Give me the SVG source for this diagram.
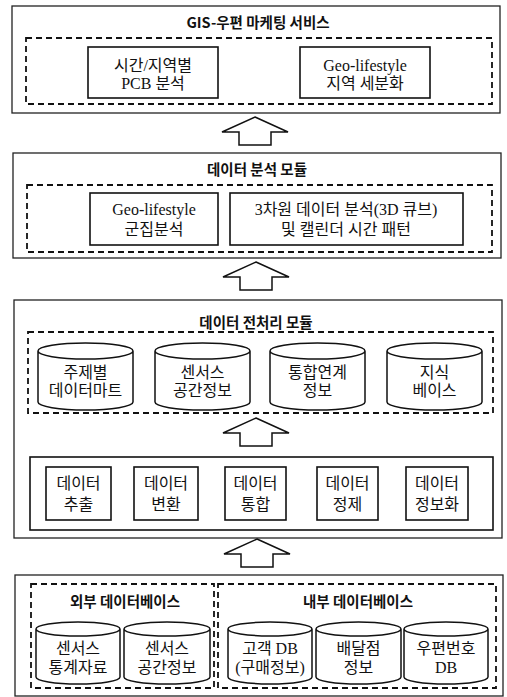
<svg xmlns="http://www.w3.org/2000/svg" width="507" height="697" viewBox="0 0 507 697">
<style>
.outer{fill:none;stroke:#222;stroke-width:1.3}
.dash{fill:none;stroke:#111;stroke-width:1.8;stroke-dasharray:6,4}
.box{fill:#fff;stroke:#111;stroke-width:1.6}
.cyl{fill:#fff;stroke:#111;stroke-width:1.5}
.arrow{fill:#fff;stroke:#111;stroke-width:1.5;stroke-linejoin:miter}
.title{font-family:"Noto Sans CJK KR","Liberation Sans",sans-serif;font-weight:bold;font-size:14.5px;fill:#111;text-anchor:middle}
.t{font-family:"Liberation Serif","Noto Sans CJK KR",serif;font-size:16px;fill:#111;text-anchor:middle}
</style>
<defs>
<path id="arr" d="M0,0 L33,15 L16,15 L16,28 L-16,28 L-16,15 L-33,15 Z"/>
</defs>
<rect width="507" height="697" fill="#fff"/>

<g id="gis-service">
<rect class="outer" x="12" y="6" width="488" height="107"/>
<text class="title" x="258" y="28">GIS-우편 마케팅 서비스</text>
<rect class="dash" x="26" y="38" width="466" height="66"/>
<g id="pcb"><rect class="box" x="88" y="47" width="130" height="51"/>
<text class="t" x="153" y="71">시간/지역별</text><text class="t" x="153" y="89">PCB 분석</text></g>
<g id="geo-seg"><rect class="box" x="300" y="47" width="130" height="51"/>
<text class="t" x="365" y="71" font-size="18">Geo-lifestyle</text><text class="t" x="365" y="89">지역 세분화</text></g>
</g>

<g id="analysis">
<rect class="outer" x="13" y="153" width="488" height="105"/>
<text class="title" x="257" y="175">데이터 분석 모듈</text>
<rect class="dash" x="27" y="185" width="465" height="67"/>
<g id="cluster"><rect class="box" x="90" y="193" width="128" height="52"/>
<text class="t" x="154" y="215" font-size="18">Geo-lifestyle</text><text class="t" x="154" y="235">군집분석</text></g>
<g id="cube"><rect class="box" x="230" y="193" width="233" height="52"/>
<text class="t" x="346" y="215">3차원 데이터 분석(3D 큐브)</text><text class="t" x="346" y="235">및 캘린더 시간 패턴</text></g>
</g>

<g id="preprocess">
<rect class="outer" x="14" y="300" width="488" height="238"/>
<text class="title" x="256" y="328">데이터 전처리 모듈</text>
<rect class="dash" x="28" y="332" width="465" height="81"/>
<g id="datamart"><path class="cyl" d="M38,351 A47.5,8 0 0 1 133,351 L133,402 A47.5,8 0 0 1 38,402 Z M38,351 A47.5,8 0 0 0 133,351"/>
<text class="t" x="85.5" y="378">주제별</text><text class="t" x="85.5" y="396">데이터마트</text></g>
<g id="census-space"><path class="cyl" d="M155,351 A47.5,8 0 0 1 250,351 L250,402 A47.5,8 0 0 1 155,402 Z M155,351 A47.5,8 0 0 0 250,351"/>
<text class="t" x="202.5" y="378">센서스</text><text class="t" x="202.5" y="396">공간정보</text></g>
<g id="integrated"><path class="cyl" d="M270,351 A47.5,8 0 0 1 365,351 L365,402 A47.5,8 0 0 1 270,402 Z M270,351 A47.5,8 0 0 0 365,351"/>
<text class="t" x="317.5" y="378">통합연계</text><text class="t" x="317.5" y="396">정보</text></g>
<g id="knowledge"><path class="cyl" d="M387,351 A47.5,8 0 0 1 482,351 L482,402 A47.5,8 0 0 1 387,402 Z M387,351 A47.5,8 0 0 0 482,351"/>
<text class="t" x="434.5" y="378">지식</text><text class="t" x="434.5" y="396">베이스</text></g>
<rect class="box" x="30" y="457" width="463" height="73"/>
<g id="extract"><rect class="box" x="46" y="467" width="65" height="53"/>
<text class="t" x="78.5" y="489">데이터</text><text class="t" x="78.5" y="510">추출</text></g>
<g id="transform"><rect class="box" x="134" y="467" width="64" height="53"/>
<text class="t" x="166" y="489">데이터</text><text class="t" x="166" y="510">변환</text></g>
<g id="integrate"><rect class="box" x="225" y="467" width="61" height="53"/>
<text class="t" x="255.5" y="489">데이터</text><text class="t" x="255.5" y="510">통합</text></g>
<g id="cleanse"><rect class="box" x="317" y="467" width="61" height="53"/>
<text class="t" x="347.5" y="489">데이터</text><text class="t" x="347.5" y="510">정제</text></g>
<g id="informatize"><rect class="box" x="406" y="467" width="62" height="53"/>
<text class="t" x="437" y="489">데이터</text><text class="t" x="437" y="510">정보화</text></g>
</g>

<g id="databases">
<rect class="outer" x="15" y="575" width="488" height="121"/>
<rect class="dash" x="31" y="584" width="183" height="104"/>
<rect class="dash" x="218" y="584" width="278" height="104"/>
<text class="title" x="125" y="607">외부 데이터베이스</text>
<text class="title" x="358" y="607">내부 데이터베이스</text>
<g id="census-stat"><path class="cyl" d="M36,629 A42,7 0 0 1 120,629 L120,677 A42,7 0 0 1 36,677 Z M36,629 A42,7 0 0 0 120,629"/>
<text class="t" x="78" y="654">센서스</text><text class="t" x="78" y="673">통계자료</text></g>
<g id="census-space2"><path class="cyl" d="M124,629 A43,7 0 0 1 210,629 L210,677 A43,7 0 0 1 124,677 Z M124,629 A43,7 0 0 0 210,629"/>
<text class="t" x="167" y="654">센서스</text><text class="t" x="167" y="673">공간정보</text></g>
<g id="customer"><path class="cyl" d="M228,629 A42,7 0 0 1 312,629 L312,677 A42,7 0 0 1 228,677 Z M228,629 A42,7 0 0 0 312,629"/>
<text class="t" x="270" y="654">고객 DB</text><text class="t" x="270" y="673">(구매정보)</text></g>
<g id="delivery"><path class="cyl" d="M316,629 A42.5,7 0 0 1 401,629 L401,677 A42.5,7 0 0 1 316,677 Z M316,629 A42.5,7 0 0 0 401,629"/>
<text class="t" x="358.5" y="654">배달점</text><text class="t" x="358.5" y="673">정보</text></g>
<g id="zipcode"><path class="cyl" d="M404,629 A42,7 0 0 1 488,629 L488,677 A42,7 0 0 1 404,677 Z M404,629 A42,7 0 0 0 488,629"/>
<text class="t" x="446" y="654">우편번호</text><text class="t" x="446" y="673">DB</text></g>
</g>

<g id="connectors">
<use href="#arr" class="arrow" x="255" y="117"/>
<use href="#arr" class="arrow" x="256" y="262"/>
<use href="#arr" class="arrow" x="256" y="418"/>
<use href="#arr" class="arrow" x="257" y="539"/>
</g>
</svg>
